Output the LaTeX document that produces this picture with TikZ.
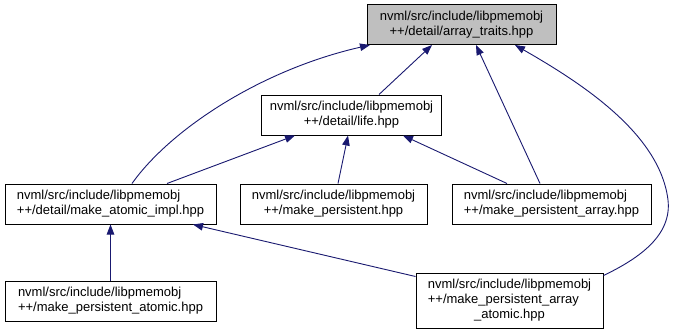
\documentclass[tikz,border=0pt]{standalone}
\usepackage{fontspec}
\setmainfont{Liberation Sans}
\usetikzlibrary{arrows.meta}
\definecolor{edgeblue}{HTML}{191970}
\definecolor{rootfill}{HTML}{BFBFBF}
\begin{document}
\begin{tikzpicture}[x=1pt,y=-1pt,
  file/.style={draw=black, line width=1pt, fill=white, inner sep=0pt,
    minimum height=40pt, font=\fontsize{13}{15}\selectfont},
  root/.style={file, fill=rootfill},
  dep/.style={draw=edgeblue, line width=0.9pt,
    -{Triangle[length=10pt,width=7.5pt]}}]
\fill[white] (0,0) rectangle (675,335);
\useasboundingbox (0,0) rectangle (675,335);

% header files
\node[root, minimum width=189pt, align=center] (arr) at (461.5,24.5)
  {nvml/src/include/libpmemobj\\++/detail/array\_traits.hpp};
\node[file, minimum width=180pt, align=center] (life) at (351.5,115)
  {nvml/src/include/libpmemobj\\++/detail/life.hpp};
\node[file, minimum width=211pt, align=left] (impl) at (110.5,204)
  {nvml/src/include/libpmemobj\\++/detail/make\_atomic\_impl.hpp};
\node[file, minimum width=187pt, align=center] (mp) at (333.5,204)
  {nvml/src/include/libpmemobj\\++/make\_persistent.hpp};
\node[file, minimum width=199pt, align=left] (mpa) at (551.5,204)
  {nvml/src/include/libpmemobj\\++/make\_persistent\_array.hpp};
\node[file, minimum width=211pt, align=left] (mpat) at (110.5,301)
  {nvml/src/include/libpmemobj\\++/make\_persistent\_atomic.hpp};
\node[file, minimum width=187pt, minimum height=55pt] (mpaa) at (509.5,300.5)
  {\begin{tabular}{@{}l@{}}nvml/src/include/libpmemobj\\++/make\_persistent\_array\\
   \multicolumn{1}{@{}c@{}}{\_atomic.hpp}\end{tabular}};

% include relations (arrow points at the included file)
\draw[dep] ([xshift=27.5pt]life.north) -- ([xshift=-29.5pt]arr.south);
\draw[dep] ([xshift=21.5pt]impl.north) .. controls (170,130) and (260,70) .. ([xshift=-91.5pt]arr.south);
\draw[dep] ([xshift=56.5pt]impl.north) -- ([xshift=-56.5pt]life.south);
\draw[dep] ([xshift=4.5pt]mp.north) -- ([xshift=-3.5pt]life.south);
\draw[dep] ([xshift=-44.5pt]mpa.north) -- ([xshift=51.5pt]life.south);
\draw[dep] ([xshift=-11.5pt]mpa.north) -- ([xshift=14.5pt]arr.south);
\draw[dep] ([yshift=-3pt]mpaa.north east) .. controls (640,258) and (672,235) .. (668,200)
  .. controls (660,135) and (585,85) .. ([xshift=53.5pt]arr.south);
\draw[dep] (mpat.north) -- (impl.south);
\draw[dep] ([yshift=-4pt]mpaa.north west) -- ([xshift=82.5pt]impl.south);
\end{tikzpicture}
\end{document}
